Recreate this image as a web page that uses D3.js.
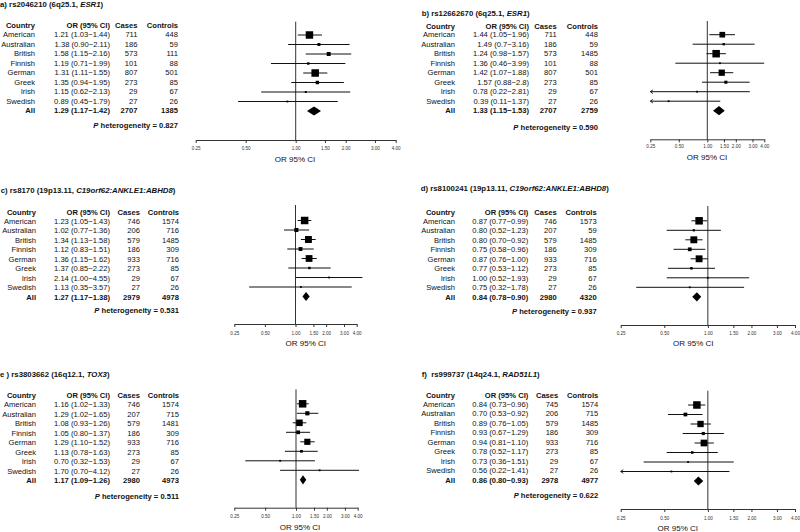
<!DOCTYPE html>
<html>
<head>
<meta charset="utf-8">
<script src="https://cdn.jsdelivr.net/npm/d3@7"></script>
<style>
  body { margin: 0; background: #fff; }
  svg { display: block; font-family: "Liberation Sans", Arial, sans-serif; }
</style>
</head>
<body>
<svg id="chart" width="800" height="532"></svg>
<script>
// ---- data ----
const countries = ["American", "Australian", "British", "Finnish", "German", "Greek", "Irish", "Swedish", "All"];
const tickValues = [0.25, 0.5, 1, 1.5, 2, 3, 4];
const tickLabels = ["0.25", "0.50", "1.00", "1.50", "2.00", "3.00", "4.00"];

const titleLeads = ["a) rs2046210 (6q25.1, ", "b) rs12662670 (6q25.1, ", "c) rs8170 (19p13.11, ",
                    "d) rs8100241 (19p13.11, ", "e ) rs3803662 (16q12.1, ", "f)\u00a0 rs999737 (14q24.1, "];
const genes = ["ESR1", "ESR1", "C19orf62:ANKLE1:ABHD8", "C19orf62:ANKLE1:ABHD8", "TOX3", "RAD51L1"];
const pHet = ["0.827", "0.590", "0.531", "0.937", "0.511", "0.622"];

// a) rs2046210
const orA = ["1.21", "1.38", "1.58", "1.19", "1.31", "1.35", "1.15", "0.89", "1.29"];
const loA = ["1.03", "0.90", "1.15", "0.71", "1.11", "0.94", "0.62", "0.45", "1.17"];
const hiA = ["1.44", "2.11", "2.16", "1.99", "1.55", "1.95", "2.13", "1.79", "1.42"];
const casesA = [711, 186, 573, 101, 807, 273, 29, 27, 2707];
const controlsA = [448, 59, 111, 88, 501, 85, 67, 26, 1385];

// b) rs12662670
const orB = ["1.44", "1.49", "1.24", "1.36", "1.42", "1.57", "0.78", "0.39", "1.33"];
const loB = ["1.05", "0.7", "0.98", "0.46", "1.07", "0.88", "0.22", "0.11", "1.15"];
const hiB = ["1.96", "3.16", "1.57", "3.99", "1.88", "2.8", "2.81", "1.37", "1.53"];
const casesB = [711, 186, 573, 101, 807, 273, 29, 27, 2707];
const controlsB = [448, 59, 1485, 88, 501, 85, 67, 26, 2759];

// c) rs8170
const orC = ["1.23", "1.02", "1.34", "1.12", "1.36", "1.37", "2.14", "1.13", "1.27"];
const loC = ["1.05", "0.77", "1.13", "0.83", "1.15", "0.85", "1.00", "0.35", "1.17"];
const hiC = ["1.43", "1.36", "1.58", "1.51", "1.62", "2.22", "4.55", "3.57", "1.38"];
const casesC = [746, 206, 579, 186, 933, 273, 29, 27, 2979];
const controlsC = [1574, 716, 1485, 309, 716, 85, 67, 26, 4978];

// d) rs8100241
const orD = ["0.87", "0.80", "0.80", "0.75", "0.87", "0.77", "1.00", "0.75", "0.84"];
const loD = ["0.77", "0.52", "0.70", "0.58", "0.76", "0.53", "0.52", "0.32", "0.78"];
const hiD = ["0.99", "1.23", "0.92", "0.96", "1.00", "1.12", "1.93", "1.78", "0.90"];
const casesD = [746, 207, 579, 186, 933, 273, 29, 27, 2980];
const controlsD = [1573, 59, 1485, 309, 716, 85, 67, 26, 4320];

// e) rs3803662
const orE = ["1.16", "1.29", "1.08", "1.05", "1.29", "1.13", "0.70", "1.70", "1.17"];
const loE = ["1.02", "1.02", "0.93", "0.80", "1.10", "0.78", "0.32", "0.70", "1.09"];
const hiE = ["1.33", "1.65", "1.26", "1.37", "1.52", "1.63", "1.53", "4.12", "1.26"];
const casesE = [746, 207, 579, 186, 933, 273, 29, 27, 2980];
const controlsE = [1574, 715, 1481, 309, 716, 85, 67, 26, 4973];

// f) rs999737
const orF = ["0.84", "0.70", "0.89", "0.93", "0.94", "0.78", "0.73", "0.56", "0.86"];
const loF = ["0.73", "0.53", "0.76", "0.67", "0.81", "0.52", "0.36", "0.22", "0.80"];
const hiF = ["0.96", "0.92", "1.05", "1.29", "1.10", "1.17", "1.51", "1.41", "0.93"];
const casesF = [745, 206, 579, 186, 933, 273, 29, 27, 2978];
const controlsF = [1574, 715, 1485, 309, 716, 85, 67, 26, 4977];

const panels = [
  [orA, loA, hiA, casesA, controlsA],
  [orB, loB, hiB, casesB, controlsB],
  [orC, loC, hiC, casesC, controlsC],
  [orD, loD, hiD, casesD, controlsD],
  [orE, loE, hiE, casesE, controlsE],
  [orF, loF, hiF, casesF, controlsF]
];

// ---- layout (pixel positions of each panel) ----
const layout = [
  {tx: 0, ty: 4, hy: 25, y0: 35, tdy: 2.0, cols: [35, 110, 137.5, 178], py: 125,
   xa: 195.7, xb: 395.7, vTop: 21.7, axisY: 140, tlY: 149, labX: 295, labY: 159},
  {tx: 421.7, ty: 13.3, hy: 25.7, y0: 34.7, tdy: 2.7, cols: [455, 529, 556.7, 598], py: 127,
   xa: 650.3, xb: 764.3, vTop: 21, axisY: 139.3, tlY: 146.7, labX: 707, labY: 157},
  {tx: 0.7, ty: 190, hy: 211.7, y0: 220.5, tdy: 3.2, cols: [36, 110, 140, 179], py: 310,
   xa: 234.3, xb: 356.7, vTop: 205, axisY: 324, tlY: 333.3, labX: 305.8, labY: 343.3},
  {tx: 420.7, ty: 188.3, hy: 211.7, y0: 220.8, tdy: 2.9, cols: [455, 528.3, 556.7, 596.7], py: 310.7,
   xa: 620.7, xb: 795, vTop: 206, axisY: 325, tlY: 333.3, labX: 693.3, labY: 343.3},
  {tx: 0, ty: 374.3, hy: 395, y0: 403.8, tdy: 3.2, cols: [36, 110, 140, 179], py: 495.7,
   xa: 234.3, xb: 357.7, vTop: 389.3, axisY: 507.7, tlY: 516.7, labX: 300, labY: 526.7},
  {tx: 421.7, ty: 374.3, hy: 395, y0: 405, tdy: 1.7, cols: [455, 528.3, 558.3, 598.3], py: 495,
   xa: 620.7, xb: 795, vTop: 390.7, axisY: 509, tlY: 518.3, labX: 677.8, labY: 528.3}
];

const rowStep = 9.5;
const fs = 7.6;
const headers = ["Country", "OR (95% CI)", "Cases", "Controls"];

const svg = d3.select("#chart");

function drawPanel(i) {
  const L = layout[i];
  const [or, lo, hi, cases, controls] = panels[i];
  const g = svg.append("g").attr("fill", "#111");

  // title
  const t = g.append("text")
    .attr("x", L.tx).attr("y", L.ty + 2.8)
    .attr("font-size", 7.8).attr("font-weight", "bold");
  t.append("tspan").text(titleLeads[i]);
  t.append("tspan").attr("font-style", "italic").text(genes[i]);
  t.append("tspan").text(")");

  // table header
  headers.forEach((h, k) => {
    g.append("text")
      .text(h)
      .attr("x", L.cols[k]).attr("y", L.hy + 2.8)
      .attr("text-anchor", "end")
      .attr("font-size", fs).attr("font-weight", "bold");
  });

  const y = d3.scalePoint().domain(countries).range([L.y0, L.y0 + 8 * rowStep]);

  // table rows
  countries.forEach((c, j) => {
    const cells = [c, `${or[j]} (${lo[j]}\u2212${hi[j]})`, cases[j], controls[j]];
    cells.forEach((v, k) => {
      g.append("text")
        .text(v)
        .attr("x", L.cols[k]).attr("y", y(c) + L.tdy)
        .attr("text-anchor", "end")
        .attr("font-size", fs)
        .attr("font-weight", c === "All" ? "bold" : null);
    });
  });

  // P heterogeneity
  const p = g.append("text")
    .attr("x", L.cols[3]).attr("y", L.py + 2.8)
    .attr("text-anchor", "end")
    .attr("font-size", fs).attr("font-weight", "bold");
  p.append("tspan").attr("font-style", "italic").text("P");
  p.append("tspan").text(" heterogeneity = " + pHet[i]);

  // forest plot
  const x = d3.scaleLog().domain([0.25, 4]).range([L.xa, L.xb]);

  const weights = countries.map((c, j) => {
    const se = (Math.log(+hi[j]) - Math.log(+lo[j])) / 3.92;
    return 1 / (se * se);
  });
  const side = d3.scaleSqrt().domain([0, d3.max(weights.slice(0, 8))]).range([0, 7.5]);

  // reference line at OR = 1
  g.append("line")
    .attr("x1", x(1)).attr("x2", x(1))
    .attr("y1", L.vTop).attr("y2", L.axisY)
    .attr("stroke", "#333").attr("stroke-width", 1);

  countries.slice(0, 8).forEach((c, j) => {
    const cy = y(c);
    const low = Math.max(+lo[j], 0.25);
    g.append("line")
      .attr("x1", x(low)).attr("x2", x(+hi[j]))
      .attr("y1", cy).attr("y2", cy)
      .attr("stroke", "#111").attr("stroke-width", 1);
    if (+lo[j] < 0.25) {
      const ax = x(0.25);
      g.append("path")
        .attr("d", `M${ax + 2.6},${cy - 1.8}L${ax},${cy}L${ax + 2.6},${cy + 1.8}`)
        .attr("fill", "none").attr("stroke", "#111").attr("stroke-width", 0.9);
    }
    const s = Math.max(side(weights[j]), 1.8);
    g.append("rect")
      .attr("x", x(+or[j]) - s / 2).attr("y", cy - s / 2)
      .attr("width", s).attr("height", s)
      .attr("fill", "#000");
  });

  // pooled diamond
  const ay = y("All");
  g.append("path")
    .attr("d", `M${x(+lo[8])},${ay}L${x(+or[8])},${ay - 4.6}L${x(+hi[8])},${ay}L${x(+or[8])},${ay + 4.6}Z`)
    .attr("fill", "#000");

  // axis
  const axisTop = L.tlY - L.axisY - 1.8 - 3;
  const axis = d3.axisBottom(x)
    .tickValues(tickValues)
    .tickFormat((v, k) => tickLabels[k])
    .tickSizeInner(3).tickSizeOuter(0)
    .tickPadding(axisTop);
  const ag = g.append("g")
    .attr("transform", `translate(0,${L.axisY})`)
    .call(axis)
    .attr("font-size", 4.6).attr("font-family", null)
    .attr("color", "#333");
  ag.select(".domain").attr("stroke-width", 1);

  g.append("text")
    .text("OR 95% CI")
    .attr("x", L.labX).attr("y", L.labY + 2.9)
    .attr("text-anchor", "middle")
    .attr("font-size", 8);
}

layout.forEach((L, i) => drawPanel(i));
</script>
</body>
</html>
